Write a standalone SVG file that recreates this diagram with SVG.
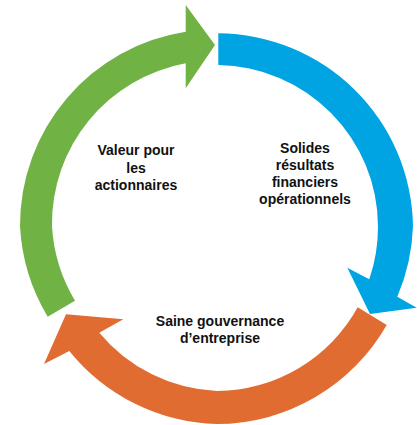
<svg xmlns="http://www.w3.org/2000/svg" width="417" height="425" viewBox="0 0 417 425">
<style>
.lbl{font-family:"Liberation Sans",Arial,sans-serif;font-weight:bold;font-size:14px;fill:#111;text-anchor:middle}
.blue{fill:#00A4E2}
.orange{fill:#E06C31}
.green{fill:#70B344}
</style>
<rect width="417" height="425" fill="#fff"/>
<g id="connectors">
<path id="arrow-blue" class="blue" d="M218.3,33.3 A196 196 0 0 1 413,226 A196 196 0 0 1 397.3,296.7 L416.7,307.7 L370,314 L347.3,267.7 L369.3,279.3 A162 162 0 0 0 378,226 A162 162 0 0 0 218.3,65 Z"/>
<path id="arrow-orange" class="orange" d="M386.7,325 A196 196 0 0 1 217,424 A196 196 0 0 1 69.3,351 L44,364 L66,314.3 L123.3,319.3 L99.3,332.7 A162 162 0 0 0 217,391 A162 162 0 0 0 357.7,307.3 Z"/>
<path id="arrow-green" class="green" d="M47.7,316.7 A196 196 0 0 1 20,226 A196 196 0 0 1 185.7,31.7 L185.7,5 L215,45 L185.7,88.3 L185.7,63.3 A163 163 0 0 0 52,226 A163 163 0 0 0 75,300.7 Z"/>
</g>
<g id="node-valeur">
<text class="lbl" x="136" y="155">Valeur pour</text>
<text class="lbl" x="136" y="172.5">les</text>
<text class="lbl" x="136" y="190">actionnaires</text>
</g>
<g id="node-solides">
<text class="lbl" x="305" y="152.5">Solides</text>
<text class="lbl" x="305" y="169.5">résultats</text>
<text class="lbl" x="305" y="186.5">financiers</text>
<text class="lbl" x="305" y="203.5">opérationnels</text>
</g>
<g id="node-saine">
<text class="lbl" x="220" y="326">Saine gouvernance</text>
<text class="lbl" x="220" y="343">d’entreprise</text>
</g>
</svg>
